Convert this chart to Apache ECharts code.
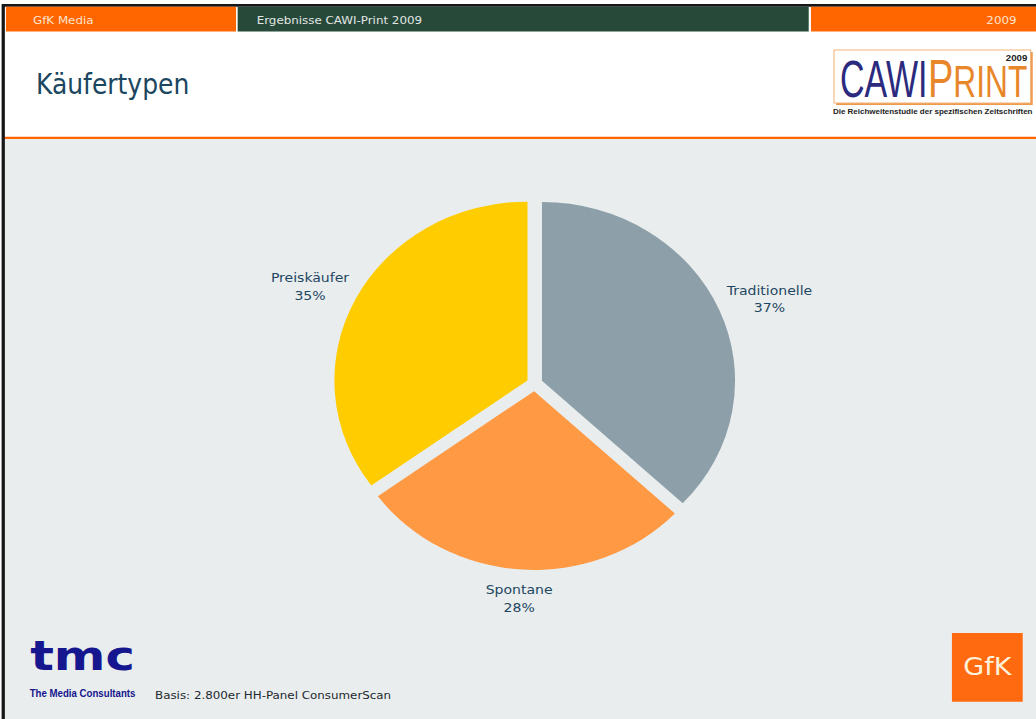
<!DOCTYPE html>
<html>
<head>
<meta charset="utf-8">
<script src="https://cdn.jsdelivr.net/npm/echarts/dist/echarts.min.js"></script>
<style>
  html, body { margin: 0; padding: 0; background: #ffffff; width: 1036px; height: 719px; overflow: hidden; }
  /* the slide is a 4:3 page shown stretched to 1036 px wide */
  #wrap { width: 959px; height: 719px; transform: scaleX(1.08029); transform-origin: 0 0; }
  #chart { width: 959px; height: 719px; }
</style>
</head>
<body>
<div id="wrap"><div id="chart"></div></div>
<script>
// ---------------- data ----------------
const categories = ['Traditionelle', 'Spontane', 'Preiskäufer'];
const shares = [37, 28, 35];
const sliceColors = ['#8DA0AA', '#FF9944', '#FFCC00'];
const headerLabels = ['GfK Media', 'Ergebnisse CAWI-Print 2009', '2009'];
const slideTitle = 'Käufertypen';
const footnote = 'Basis: 2.800er HH-Panel ConsumerScan';
const logoTexts = { cawi: 'CAWI', printP: 'P', printRest: 'RINT', year: '2009', claim: 'Die Reichweitenstudie der spezifischen Zeitschriften',
                    tmc: 'tmc', tmcSub: 'The Media Consultants', gfk: 'GfK' };

// ---------------- layout ----------------
const PIE = { cx: 494.9, cy: 383.75, r: 178.75, offset: 7.4, labelGap: 11 };
const total = shares.reduce((a, b) => a + b, 0);
function midFrac(i) {
  let cum = 0;
  for (let k = 0; k < i; k++) cum += shares[k];
  return (cum + shares[i] / 2) / total;
}
const mctx = document.createElement('canvas').getContext('2d');
function textW(text, font) { mctx.font = font; return mctx.measureText(text).width; }
function fit(text, font, width) { return width / textW(text, font); }

const DV = '"DejaVu Sans", Verdana, sans-serif';
const LS = '"Liberation Sans", Arial, sans-serif';
const titleFont = '28px ' + DV;
const cawiFont = '52px ' + LS;
const pFont = '54px ' + LS;
const rintFont = '45px ' + LS;
const claimFont = 'bold 8px ' + LS;
const tmcFont = 'bold 40px ' + DV;
const tmcSubFont = 'bold 10px ' + LS;

const printX = 859, printW = 92;
const wP = textW(logoTexts.printP, pFont), wR = textW(logoTexts.printRest, rintFont);
const printScale = printW / (wP + wR);

const graphics = [
  { type: 'rect', z: -10, shape: { x: 0, y: 0, width: 959, height: 719 }, style: { fill: '#ffffff' } },
  { type: 'rect', z: -9, shape: { x: 4, y: 139, width: 955, height: 580 }, style: { fill: '#E9EDED' } },
  { type: 'rect', z: -9, shape: { x: 4, y: 136.8, width: 955, height: 2.2 }, style: { fill: '#FF6600' } },
  { type: 'rect', z: -9, shape: { x: 2, y: 4, width: 957, height: 2.8 }, style: { fill: '#161616' } },
  { type: 'rect', z: -9, shape: { x: 1.5, y: 4, width: 3, height: 715 }, style: { fill: '#161616' } },
  { type: 'rect', z: -9, shape: { x: 5.5, y: 6.8, width: 213, height: 24.7 }, style: { fill: '#FF6600' } },
  { type: 'rect', z: -9, shape: { x: 220, y: 6.8, width: 528.6, height: 24.7 }, style: { fill: '#26493A' } },
  { type: 'rect', z: -9, shape: { x: 750.7, y: 6.8, width: 208.3, height: 24.7 }, style: { fill: '#FF6600' } },
  { type: 'text', z: -8, x: 30.5, y: 20.2, style: { text: headerLabels[0], font: '11px ' + DV, fill: '#FFE2CC', align: 'left', verticalAlign: 'middle' } },
  { type: 'text', z: -8, x: 237.6, y: 20.2, style: { text: headerLabels[1], font: '11px ' + DV, fill: '#E2E6E4', align: 'left', verticalAlign: 'middle' } },
  { type: 'text', z: -8, x: 941, y: 20.2, style: { text: headerLabels[2], font: '11px ' + DV, fill: '#FFE2CC', align: 'right', verticalAlign: 'middle' } },
  { type: 'text', z: -8, x: 33.3, y: 83.5, scaleX: fit(slideTitle, titleFont, 142), style: { text: slideTitle, font: titleFont, fill: '#1B4660', align: 'left', verticalAlign: 'middle' } },
  // CAWI-Print logo
  { type: 'rect', z: -8, shape: { x: 774, y: 52, width: 182, height: 53 }, style: { fill: '#EE9A4E' } },
  { type: 'rect', z: -7, shape: { x: 772, y: 50, width: 182, height: 53 }, style: { fill: '#ffffff', stroke: '#F2B47A', lineWidth: 1 } },
  { type: 'text', z: -6, x: 777.6, y: 79, scaleX: fit(logoTexts.cawi, cawiFont, 81), style: { text: logoTexts.cawi, font: cawiFont, fill: '#2B2A7E', align: 'left', verticalAlign: 'middle' } },
  { type: 'text', z: -6, x: printX, y: 78.3, scaleX: printScale, style: { text: logoTexts.printP, font: pFont, fill: '#E8862A', align: 'left', verticalAlign: 'middle' } },
  { type: 'text', z: -6, x: printX + wP * printScale, y: 81.4, scaleX: printScale, style: { text: logoTexts.printRest, font: rintFont, fill: '#E8862A', align: 'left', verticalAlign: 'middle' } },
  { type: 'text', z: -6, x: 951, y: 58.5, style: { text: logoTexts.year, font: 'bold 9px ' + LS, fill: '#222222', align: 'right', verticalAlign: 'middle' } },
  { type: 'text', z: -6, x: 771, y: 111.5, scaleX: fit(logoTexts.claim, claimFont, 185), style: { text: logoTexts.claim, font: claimFont, fill: '#222222', align: 'left', verticalAlign: 'middle' } },
  // tmc logo
  { type: 'text', z: -6, x: 76.4, y: 656, scaleX: fit(logoTexts.tmc, tmcFont, 97), style: { text: logoTexts.tmc, font: tmcFont, fill: '#16168E', align: 'center', verticalAlign: 'middle' } },
  { type: 'text', z: -6, x: 76.4, y: 693.5, scaleX: fit(logoTexts.tmcSub, tmcSubFont, 98), style: { text: logoTexts.tmcSub, font: tmcSubFont, fill: '#16168E', align: 'center', verticalAlign: 'middle' } },
  // footnote
  { type: 'text', z: -6, x: 143.5, y: 695.2, style: { text: footnote, font: '11px ' + DV, fill: '#1E2A30', align: 'left', verticalAlign: 'middle' } },
  // GfK logo
  { type: 'rect', z: -6, shape: { x: 881.2, y: 633, width: 65.5, height: 68.7 }, style: { fill: '#FF6A10' } },
  { type: 'text', z: -5, x: 914, y: 666.3, style: { text: logoTexts.gfk, font: '25px ' + DV, fill: '#FFF2DA', align: 'center', verticalAlign: 'middle' } }
];

const pieData = categories.map((name, i) => ({ name: name, value: shares[i] }));

const chart = echarts.init(document.getElementById('chart'), null, { renderer: 'svg', width: 959, height: 719 });
chart.setOption({
  animation: false,
  graphic: { elements: graphics },
  series: [
    {
      // exploded slices
      type: 'pie',
      center: [PIE.cx, PIE.cy],
      radius: PIE.r,
      startAngle: 90,
      clockwise: true,
      selectedMode: 'multiple',
      selectedOffset: PIE.offset,
      emphasis: { disabled: true },
      silent: true,
      data: pieData.map((d, i) => ({ name: d.name, value: d.value, selected: true, itemStyle: { color: sliceColors[i] } })),
      label: { show: false },
      labelLine: { show: false }
    },
    {
      // same pie, invisible slices, carries the labels
      type: 'pie',
      center: [PIE.cx, PIE.cy],
      radius: PIE.r,
      startAngle: 90,
      clockwise: true,
      silent: true,
      emphasis: { disabled: true },
      avoidLabelOverlap: false,
      itemStyle: { color: 'rgba(0,0,0,0)' },
      data: pieData,
      label: {
        show: true,
        position: 'outside',
        formatter: '{b}\n{c}%',
        fontFamily: 'DejaVu Sans',
        fontSize: 13,
        lineHeight: 17.5,
        color: '#1E4763'
      },
      labelLine: { show: false },
      labelLayout: function (p) {
        const th = midFrac(p.dataIndex) * 2 * Math.PI;
        const s = Math.sin(th), c = Math.cos(th);
        const d = PIE.offset + PIE.r + PIE.labelGap;
        const hw = p.labelRect.width / 2, hh = p.labelRect.height / 2;
        return { x: PIE.cx + d * s + hw * s, y: PIE.cy - d * c - hh * c, align: 'center', verticalAlign: 'middle' };
      }
    }
  ]
});
</script>
</body>
</html>
